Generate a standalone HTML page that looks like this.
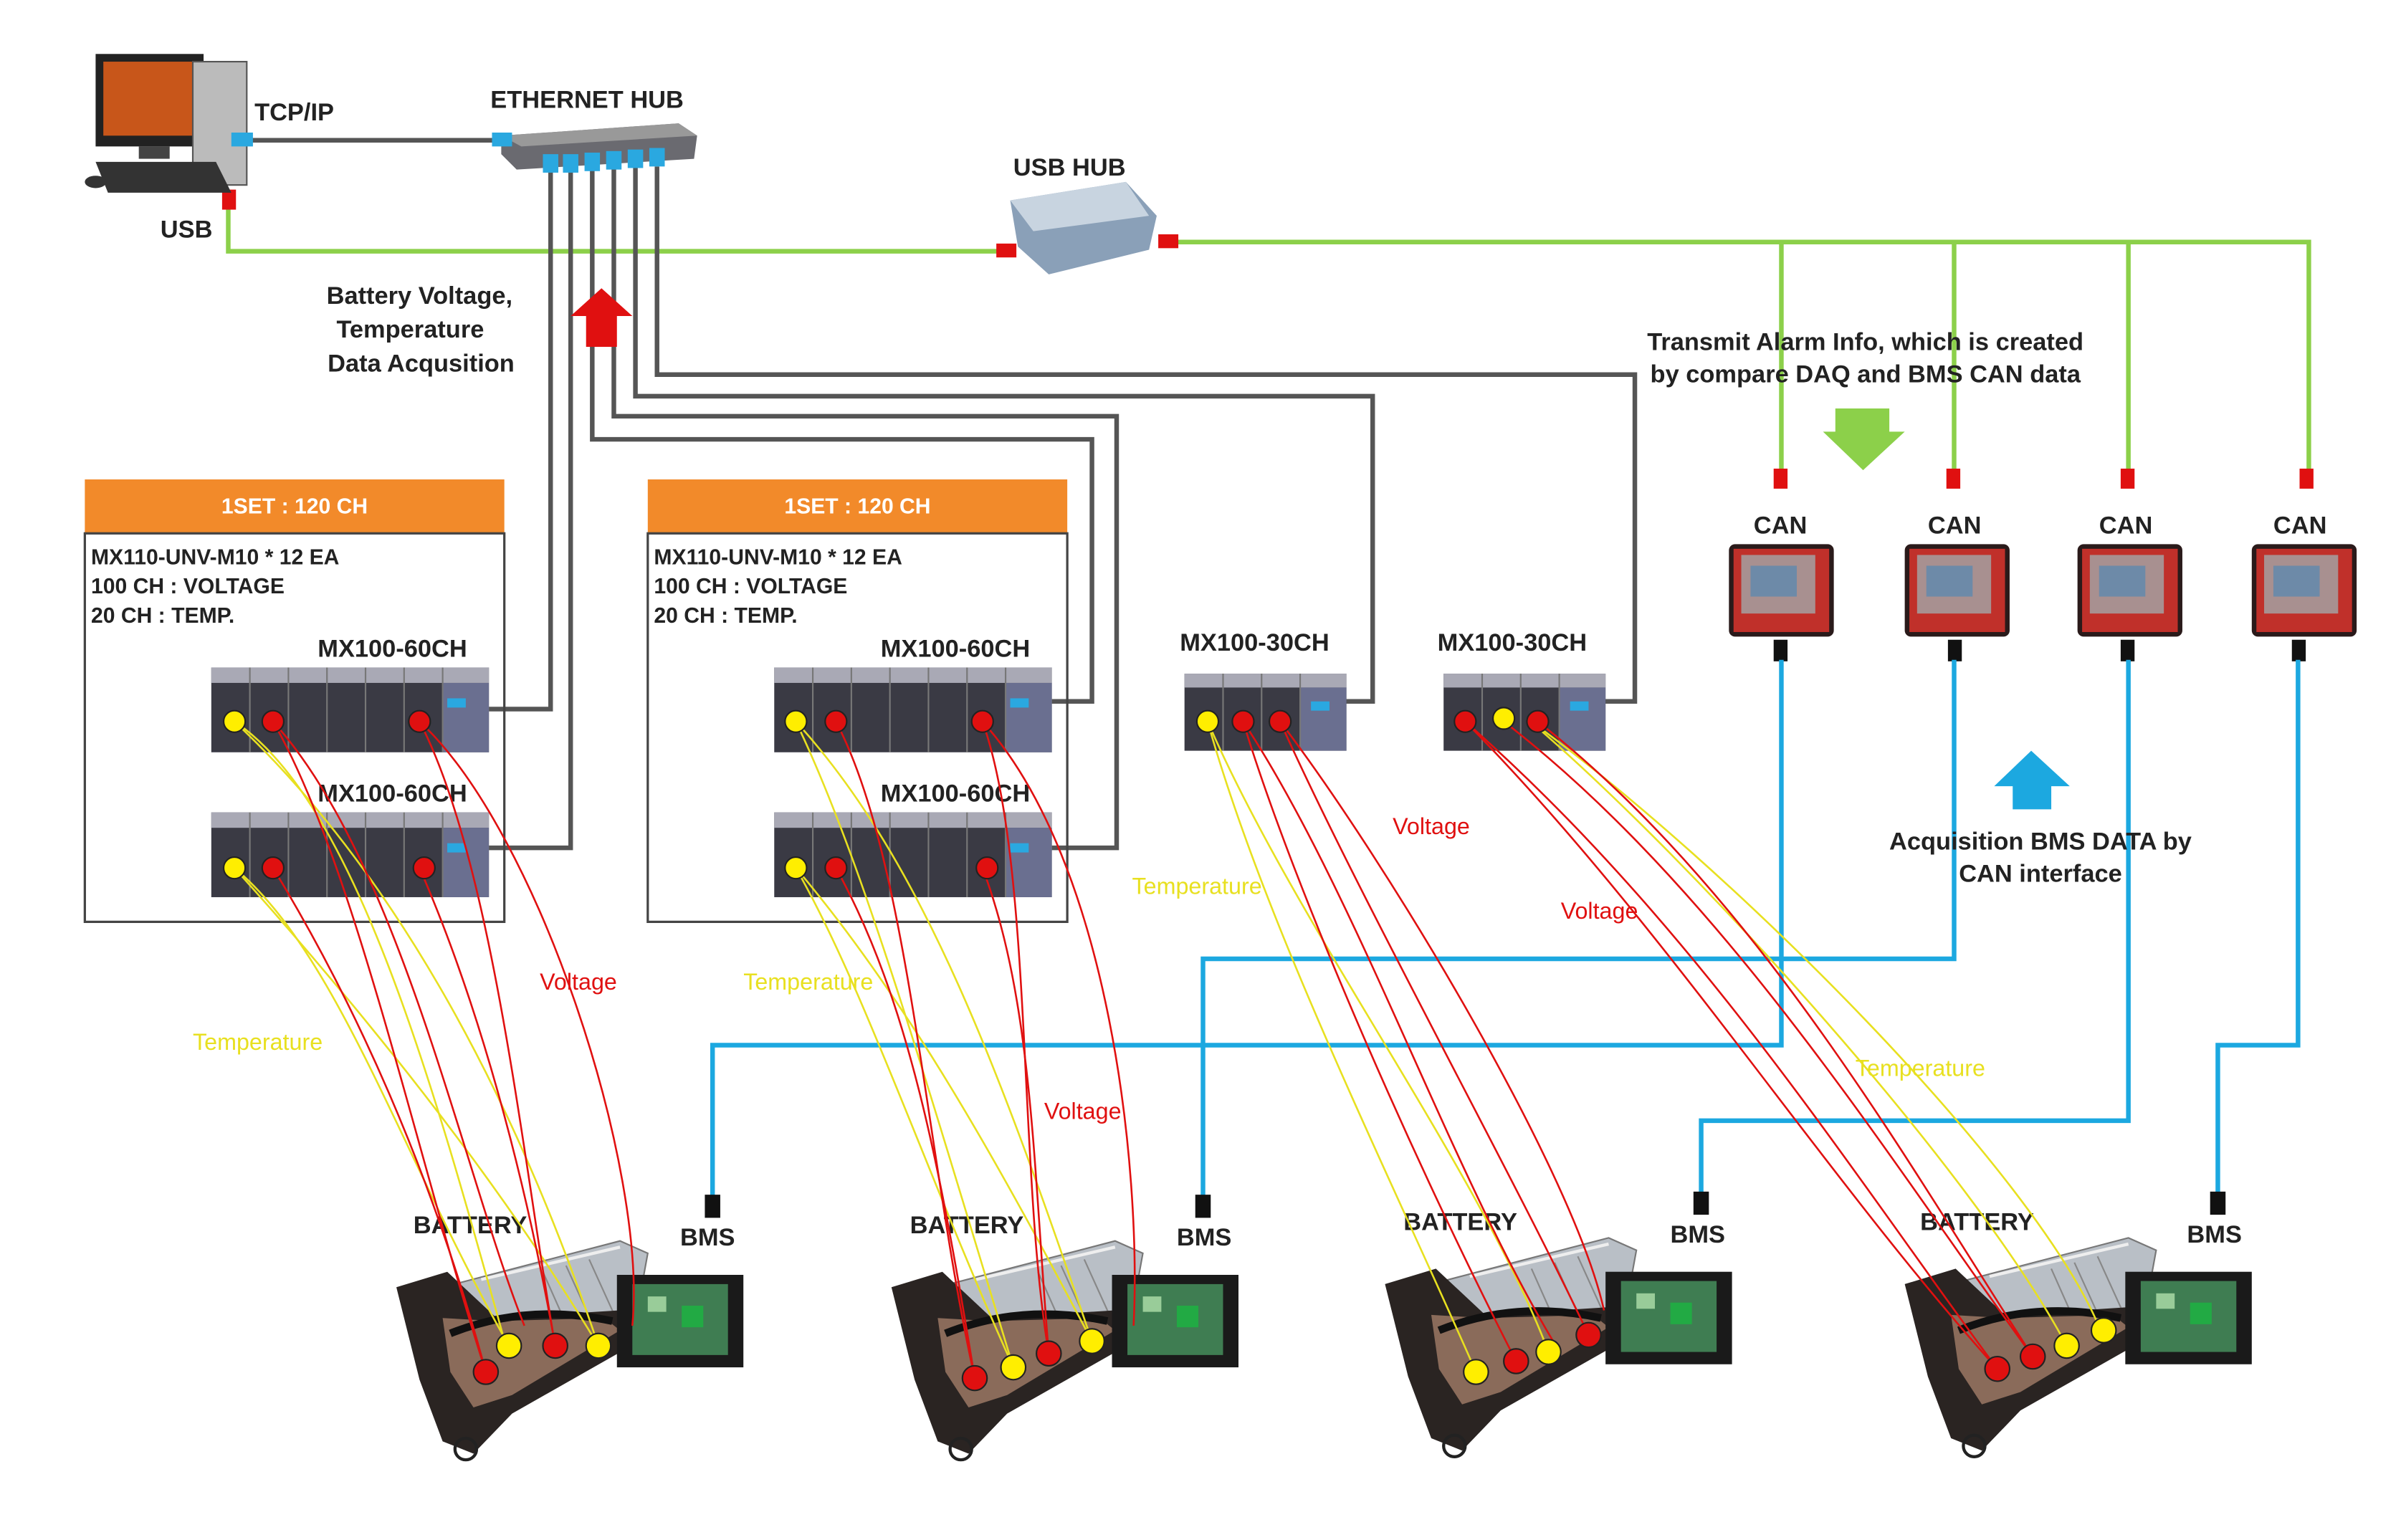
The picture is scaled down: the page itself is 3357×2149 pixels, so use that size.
<!DOCTYPE html>
<html><head><meta charset="utf-8"><style>
html,body{margin:0;padding:0;background:#fff;}
svg{display:block;}
text{font-family:"Liberation Sans",sans-serif;font-weight:bold;fill:#222;}
</style></head><body>
<svg width="3357" height="2149" viewBox="0 0 1560 999" preserveAspectRatio="none" xmlns="http://www.w3.org/2000/svg">
<defs>
<g id="bat">
  <polygon points="35,40 150,10 168,18 160,62 62,95" fill="#b9bfc6" stroke="#777" stroke-width="1"/>
  <line x1="60" y1="35" x2="150" y2="14" stroke="#eee" stroke-width="2"/>
  <line x1="100" y1="30" x2="120" y2="75" stroke="#888"/>
  <line x1="115" y1="26" x2="135" y2="70" stroke="#888"/>
  <line x1="130" y1="22" x2="150" y2="66" stroke="#888"/>
  <polygon points="5,40 38,30 70,60 150,55 168,72 80,122 55,148 35,140 20,100" fill="#2a2422"/>
  <polygon points="35,60 70,62 140,60 150,68 80,110 55,118 40,95" fill="#8a6b5a"/>
  <path d="M40,70 Q90,50 145,62" stroke="#111" stroke-width="5" fill="none"/>
  <circle cx="50" cy="145" r="7" fill="none" stroke="#222" stroke-width="2"/>
  <rect x="148" y="32" width="82" height="60" fill="#1a1a1a"/>
  <rect x="158" y="38" width="62" height="46" fill="#3f7d52"/>
  <rect x="168" y="46" width="12" height="10" fill="#9c9"/><rect x="190" y="52" width="14" height="14" fill="#2a4"/>
</g>
<g id="mx60">
  <rect x="0" y="0" width="180" height="55" fill="#3a3a44"/>
  <rect x="0" y="0" width="180" height="10" fill="#a9a9b5"/>
  <rect x="150" y="10" width="30" height="45" fill="#6a6f90"/>
  <g stroke="#777" stroke-width="1"><line x1="25" y1="0" x2="25" y2="55"/><line x1="50" y1="0" x2="50" y2="55"/><line x1="75" y1="0" x2="75" y2="55"/><line x1="100" y1="0" x2="100" y2="55"/><line x1="125" y1="0" x2="125" y2="55"/><line x1="150" y1="0" x2="150" y2="55"/></g>
  <rect x="153" y="20" width="12" height="6" fill="#2aa8e0"/>
</g>
<g id="mx30">
  <rect x="0" y="0" width="105" height="50" fill="#3a3a44"/>
  <rect x="0" y="0" width="105" height="9" fill="#a9a9b5"/>
  <rect x="75" y="9" width="30" height="41" fill="#6a6f90"/>
  <g stroke="#777"><line x1="25" y1="0" x2="25" y2="50"/><line x1="50" y1="0" x2="50" y2="50"/><line x1="75" y1="0" x2="75" y2="50"/></g>
  <rect x="82" y="18" width="12" height="6" fill="#2aa8e0"/>
</g>
<g id="can">
  <rect x="0" y="0" width="68" height="60" rx="4" fill="#2a1a1a"/>
  <rect x="3" y="3" width="62" height="54" fill="#c0302a"/>
  <rect x="8" y="7" width="48" height="38" fill="#a89090"/>
  <rect x="14" y="14" width="30" height="20" fill="#6d8aa8"/>
</g>
</defs>

<!-- green USB lines -->
<g stroke="#8cd04a" stroke-width="3" fill="none">
<polyline points="148,133 148,163 652,163"/>
<polyline points="757,157 1497,157 1497,306"/>
<line x1="1155" y1="157" x2="1155" y2="306"/>
<line x1="1267" y1="157" x2="1267" y2="306"/>
<line x1="1380" y1="157" x2="1380" y2="306"/>
</g>
<g fill="#e01010"><rect x="144" y="123" width="9" height="13"/><rect x="646" y="158" width="13" height="9"/><rect x="751" y="152" width="13" height="9"/>
<rect x="1150" y="304" width="9" height="13"/><rect x="1262" y="304" width="9" height="13"/><rect x="1375" y="304" width="9" height="13"/><rect x="1491" y="304" width="9" height="13"/></g>

<!-- gray ethernet lines -->
<g stroke="#555" stroke-width="3" fill="none">
<line x1="160" y1="91" x2="325" y2="91"/>
<polyline points="357,108 357,460 317,460"/>
<polyline points="370,108 370,550 317,550"/>
<polyline points="384,108 384,285 708,285 708,455 682,455"/>
<polyline points="398,108 398,270 724,270 724,550 682,550"/>
<polyline points="412,108 412,257 890,257 890,455 870,455"/>
<polyline points="426,108 426,243 1060,243 1060,455 1040,455"/>
</g>

<!-- computer -->
<rect x="62" y="35" width="70" height="60" fill="#222"/>
<rect x="67" y="40" width="60" height="48" fill="#c8561a"/>
<rect x="90" y="95" width="20" height="8" fill="#444"/>
<rect x="125" y="40" width="35" height="80" fill="#bbb" stroke="#555"/>
<polygon points="62,105 140,105 150,125 70,125" fill="#333"/>
<ellipse cx="62" cy="118" rx="7" ry="4" fill="#333"/>
<rect x="150" y="86" width="14" height="9" fill="#2aa8e0"/>
<text x="165" y="78" font-size="16">TCP/IP</text>
<text x="104" y="154" font-size="16">USB</text>

<!-- ethernet hub -->
<polygon points="325,88 440,80 452,88 450,103 335,110 325,100" fill="#6a6a70"/>
<polygon points="325,88 440,80 452,88 338,95" fill="#999"/>
<rect x="319" y="86" width="13" height="9" fill="#2aa8e0"/>
<g fill="#2aa8e0"><rect x="352" y="100" width="10" height="12"/><rect x="365" y="100" width="10" height="12"/><rect x="379" y="99" width="10" height="12"/><rect x="393" y="98" width="10" height="12"/><rect x="407" y="97" width="10" height="12"/><rect x="421" y="96" width="10" height="12"/></g>
<text x="318" y="70" font-size="16">ETHERNET HUB</text>

<!-- usb hub -->
<polygon points="655,130 730,118 750,140 745,162 680,178 660,160" fill="#8aa0b8"/>
<polygon points="655,130 730,118 745,140 670,150" fill="#c8d4e0"/>
<text x="657" y="114" font-size="16">USB HUB</text>

<!-- red arrow -->
<polygon points="390,187 410,205 400,205 400,225 380,225 380,205 370,205" fill="#e01010"/>
<g font-size="16" text-anchor="middle"><text x="272" y="197">Battery Voltage,</text><text x="266" y="219">Temperature</text><text x="273" y="241">Data Acqusition</text></g>

<!-- sets -->
<g font-size="14">
<rect x="55" y="311" width="272" height="35" fill="#f28a2a"/>
<rect x="55" y="346" width="272" height="252" fill="none" stroke="#444" stroke-width="1.5"/>
<text x="191" y="333" text-anchor="middle" fill="#fff" style="fill:#fff" font-size="14">1SET : 120 CH</text>
<text x="59" y="366">MX110-UNV-M10 * 12 EA</text><text x="59" y="385">100 CH : VOLTAGE</text><text x="59" y="404">20 CH : TEMP.</text>
<rect x="420" y="311" width="272" height="35" fill="#f28a2a"/>
<rect x="420" y="346" width="272" height="252" fill="none" stroke="#444" stroke-width="1.5"/>
<text x="556" y="333" text-anchor="middle" style="fill:#fff" font-size="14">1SET : 120 CH</text>
<text x="424" y="366">MX110-UNV-M10 * 12 EA</text><text x="424" y="385">100 CH : VOLTAGE</text><text x="424" y="404">20 CH : TEMP.</text>
</g>
<g font-size="16">
<text x="206" y="426">MX100-60CH</text><text x="206" y="520">MX100-60CH</text>
<text x="571" y="426">MX100-60CH</text><text x="571" y="520">MX100-60CH</text>
<text x="765" y="422">MX100-30CH</text><text x="932" y="422">MX100-30CH</text>
</g>
<use href="#mx60" x="137" y="433"/><use href="#mx60" x="137" y="527"/>
<use href="#mx60" x="502" y="433"/><use href="#mx60" x="502" y="527"/>
<use href="#mx30" x="768" y="437"/><use href="#mx30" x="936" y="437"/>

<!-- CAN -->
<g font-size="16"><text x="1137" y="346">CAN</text><text x="1250" y="346">CAN</text><text x="1361" y="346">CAN</text><text x="1474" y="346">CAN</text></g>
<use href="#can" x="1121" y="353"/><use href="#can" x="1235" y="353"/><use href="#can" x="1347" y="353"/><use href="#can" x="1460" y="353"/>
<g fill="#111"><rect x="1150" y="415" width="9" height="14"/><rect x="1263" y="415" width="9" height="14"/><rect x="1375" y="415" width="9" height="14"/><rect x="1486" y="415" width="9" height="14"/></g>

<!-- blue CAN lines -->
<g stroke="#1ca8e0" stroke-width="3" fill="none">
<polyline points="1155,428 1155,678 462,678 462,778"/>
<polyline points="1267,428 1267,622 780,622 780,778"/>
<polyline points="1380,428 1380,727 1103,727 1103,778"/>
<polyline points="1490,428 1490,678 1438,678 1438,778"/>
</g>
<g fill="#111"><rect x="457" y="775" width="10" height="15"/><rect x="775" y="775" width="10" height="15"/><rect x="1098" y="773" width="10" height="15"/><rect x="1433" y="773" width="10" height="15"/></g>

<text x="1068" y="227" font-size="16">Transmit Alarm Info, which is created</text>
<text x="1070" y="248" font-size="16">by compare DAQ and BMS CAN data</text>
<polygon points="1190,265 1225,265 1225,280 1235,280 1208,305 1182,280 1190,280" fill="#8cd04a"/>
<polygon points="1317,487 1342,510 1330,510 1330,525 1305,525 1305,510 1293,510" fill="#1ca8e0"/>
<text x="1323" y="551" font-size="16" text-anchor="middle">Acquisition BMS DATA by</text>
<text x="1323" y="572" font-size="16" text-anchor="middle">CAN interface</text>

<!-- batteries -->
<use href="#bat" x="252" y="795"/><use href="#bat" x="573" y="795"/><use href="#bat" x="893" y="793"/><use href="#bat" x="1230" y="793"/>
<g font-size="16"><text x="268" y="800">BATTERY</text><text x="441" y="808">BMS</text>
<text x="590" y="800">BATTERY</text><text x="763" y="808">BMS</text>
<text x="910" y="798">BATTERY</text><text x="1083" y="806">BMS</text>
<text x="1245" y="798">BATTERY</text><text x="1418" y="806">BMS</text></g>

<!-- wires -->
<g fill="none" stroke-width="1.2">
<g stroke="#e8e020">
<path d="M152,468 C230,520 280,700 328,873"/><path d="M152,563 C220,620 260,750 330,873"/>
<path d="M152,468 C250,560 330,700 388,873"/><path d="M152,563 C230,650 320,760 388,873"/>
<path d="M516,468 C560,560 600,700 657,887"/><path d="M516,563 C560,640 600,760 657,887"/>
<path d="M516,468 C600,560 650,700 708,870"/><path d="M516,563 C590,650 650,760 708,870"/>
<path d="M783,468 C820,600 900,760 957,890"/><path d="M783,468 C840,600 960,760 1004,877"/><path d="M990,466 C1100,560 1280,760 1340,873"/><path d="M990,466 C1120,560 1320,760 1362,863"/>
</g>
<g stroke="#e01010">
<path d="M177,468 C230,560 270,750 315,890"/><path d="M177,563 C230,650 280,760 315,890"/><path d="M272,468 C320,560 340,760 360,873"/><path d="M272,563 C310,650 340,760 360,873"/>
<path d="M272,468 C350,540 420,760 410,860"/><path d="M177,468 C260,560 300,760 340,860"/>
<path d="M542,468 C590,560 600,750 632,894"/><path d="M542,563 C590,650 610,760 632,894"/><path d="M637,468 C670,560 660,760 680,878"/><path d="M637,563 C670,650 670,760 680,878"/><path d="M637,468 C720,560 740,760 735,860"/>
<path d="M806,468 C840,580 920,760 983,883"/><path d="M830,468 C880,580 980,760 1030,866"/><path d="M830,468 C900,560 1020,760 1040,850"/><path d="M806,468 C880,580 940,760 1010,875"/>
<path d="M950,468 C1100,600 1200,760 1295,888"/><path d="M975,468 C1120,580 1230,760 1318,880"/><path d="M997,468 C1140,580 1240,760 1318,880"/><path d="M950,468 C1080,600 1180,760 1295,888"/>
</g>
</g>
<!-- dots -->
<g stroke="#222" stroke-width="1">
<circle cx="152" cy="468" r="7" fill="#ffee00"/><circle cx="177" cy="468" r="7" fill="#e01010"/><circle cx="272" cy="468" r="7" fill="#e01010"/>
<circle cx="152" cy="563" r="7" fill="#ffee00"/><circle cx="177" cy="563" r="7" fill="#e01010"/><circle cx="275" cy="563" r="7" fill="#e01010"/>
<circle cx="516" cy="468" r="7" fill="#ffee00"/><circle cx="542" cy="468" r="7" fill="#e01010"/><circle cx="637" cy="468" r="7" fill="#e01010"/>
<circle cx="516" cy="563" r="7" fill="#ffee00"/><circle cx="542" cy="563" r="7" fill="#e01010"/><circle cx="640" cy="563" r="7" fill="#e01010"/>
<circle cx="783" cy="468" r="7" fill="#ffee00"/><circle cx="806" cy="468" r="7" fill="#e01010"/><circle cx="830" cy="468" r="7" fill="#e01010"/>
<circle cx="950" cy="468" r="7" fill="#e01010"/><circle cx="975" cy="466" r="7" fill="#ffee00"/><circle cx="997" cy="468" r="7" fill="#e01010"/>
<circle cx="315" cy="890" r="8" fill="#e01010"/><circle cx="330" cy="873" r="8" fill="#ffee00"/><circle cx="360" cy="873" r="8" fill="#e01010"/><circle cx="388" cy="873" r="8" fill="#ffee00"/>
<circle cx="632" cy="894" r="8" fill="#e01010"/><circle cx="657" cy="887" r="8" fill="#ffee00"/><circle cx="680" cy="878" r="8" fill="#e01010"/><circle cx="708" cy="870" r="8" fill="#ffee00"/>
<circle cx="957" cy="890" r="8" fill="#ffee00"/><circle cx="983" cy="883" r="8" fill="#e01010"/><circle cx="1004" cy="877" r="8" fill="#ffee00"/><circle cx="1030" cy="866" r="8" fill="#e01010"/>
<circle cx="1295" cy="888" r="8" fill="#e01010"/><circle cx="1318" cy="880" r="8" fill="#e01010"/><circle cx="1340" cy="873" r="8" fill="#ffee00"/><circle cx="1364" cy="863" r="8" fill="#ffee00"/>
</g>

<!-- wire labels -->
<g font-size="15" font-weight="normal">
<text x="350" y="642" style="fill:#e01010;font-weight:normal">Voltage</text>
<text x="125" y="681" style="fill:#e8e020;font-weight:normal">Temperature</text>
<text x="482" y="642" style="fill:#e8e020;font-weight:normal">Temperature</text>
<text x="677" y="726" style="fill:#e01010;font-weight:normal">Voltage</text>
<text x="734" y="580" style="fill:#e8e020;font-weight:normal">Temperature</text>
<text x="903" y="541" style="fill:#e01010;font-weight:normal">Voltage</text>
<text x="1012" y="596" style="fill:#e01010;font-weight:normal">Voltage</text>
<text x="1203" y="698" style="fill:#e8e020;font-weight:normal">Temperature</text>
</g>
</svg>
</body></html>
